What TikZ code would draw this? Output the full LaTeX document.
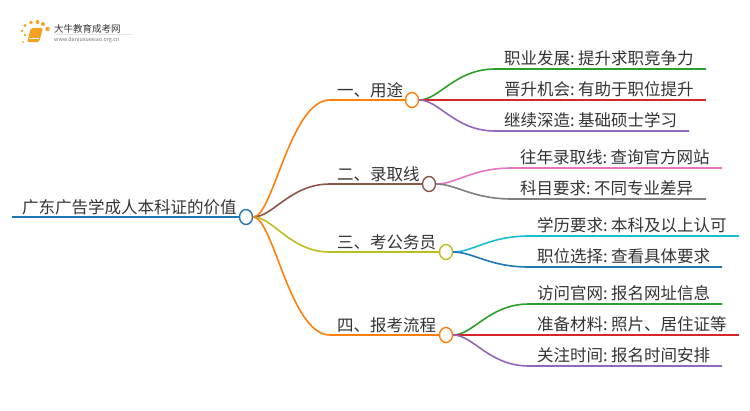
\documentclass[tikz,border=0pt]{standalone}
\usepackage{fontspec}
\usetikzlibrary{shapes.geometric}
\setmainfont[WordSpace=0.6]{Noto Sans CJK SC}
\definecolor{orangecolor}{RGB}{255,127,14}
\definecolor{browncolor}{RGB}{140,86,75}
\definecolor{olivecolor}{RGB}{188,189,34}
\definecolor{bluecolor}{RGB}{31,119,180}
\definecolor{greencolor}{RGB}{44,160,44}
\definecolor{redcolor}{RGB}{214,39,40}
\definecolor{purplecolor}{RGB}{148,103,189}
\definecolor{pinkcolor}{RGB}{227,119,194}
\definecolor{greycolor}{RGB}{127,127,127}
\definecolor{cyancolor}{RGB}{23,190,207}
\definecolor{textcolor}{RGB}{51,51,51}
\definecolor{logocolor}{RGB}{245,160,30}
\begin{document}
\begin{tikzpicture}[x=1pt,y=-1pt]
\newcommand{\outspan}{20}
\newcommand{\inspan}{40}
\tikzstyle{vertex}=[draw,line width=1.4pt,ellipse,fill=white,minimum width=13pt,minimum height=15pt,inner sep=0pt]
\tikzstyle{label}=[inner sep=0pt,text=textcolor,font=\fontsize{16.5pt}{18pt}\selectfont,anchor=base west]
\tikzstyle{link}=[line width=1.6pt]
\tikzstyle{dot}=[fill=logocolor,draw=none,circle,inner sep=0pt]
\useasboundingbox (0,0) rectangle (750,410);
% logo
\node[inner sep=0pt,text=textcolor,font=\fontsize{9.5pt}{10pt}\selectfont,anchor=base west] (logotitle) at (54,32) {大牛教育成考网};
\node[inner sep=0pt,text=black!55,font=\fontsize{5.4pt}{6pt}\selectfont,anchor=base west] (logourl) at (54,41) {www.daniuxuexiao.org.cn};
\draw[black!10,line width=0.5pt] (54,34) -- (132,34);
\foreach \i/\px/\py/\r in {1/23/42/2,2/25/35/2.6,3/22/31/2.8,4/25/25.5/3.2,5/31/22.5/3.8,6/37.5/22/4,7/43/24/4,8/47.5/29/4.4}
  \node[dot,minimum size=\r pt] (logodot\i) at (\px,\py) {};
\fill[logocolor,rounded corners=1.5pt] (31,28) -- (43,28) -- (39,42) -- (27,42) -- cycle;
\draw[white,line width=0.5pt] (29,38.5) -- (38.5,38.5);
% vertices
\node[vertex,draw=bluecolor] (root) at (246,217) {};
\node[vertex,draw=orangecolor] (b1) at (412,100) {};
\node[vertex,draw=browncolor] (b2) at (429,184) {};
\node[vertex,draw=olivecolor] (b3) at (446,252) {};
\node[vertex,draw=orangecolor] (b4) at (446,335) {};
% line ends
\coordinate (rootstart) at (12,217);
\coordinate (b1a) at (330,100);
\coordinate (b2a) at (330,184);
\coordinate (b3a) at (330,252);
\coordinate (b4a) at (330,335);
\coordinate (l1s) at (495,69);   \coordinate (l1e) at (706,69);
\coordinate (l2e) at (706,100);
\coordinate (l3s) at (495,131);  \coordinate (l3e) at (689,131);
\coordinate (l4s) at (512,168);  \coordinate (l4e) at (722,168);
\coordinate (l5s) at (512,199);  \coordinate (l5e) at (706,199);
\coordinate (l6s) at (529,236);  \coordinate (l6e) at (739,236);
\coordinate (l7s) at (529,267);  \coordinate (l7e) at (722,267);
\coordinate (l8s) at (529,304);  \coordinate (l8e) at (722,304);
\coordinate (l9e) at (739,335);
\coordinate (l10s) at (529,366); \coordinate (l10e) at (722,366);
% edges
\draw[bluecolor,line width=1.8pt] (rootstart) -- (root);
\draw[orangecolor,link] (root.east) .. controls +(\outspan,0) and +(-\inspan,0) .. (b1a) -- (b1);
\draw[browncolor,link] (root.east) .. controls +(\outspan,0) and +(-\inspan,0) .. (b2a) -- (b2);
\draw[olivecolor,link] (root.east) .. controls +(\outspan,0) and +(-\inspan,0) .. (b3a) -- (b3);
\draw[orangecolor,link] (root.east) .. controls +(\outspan,0) and +(-\inspan,0) .. (b4a) -- (b4);
\draw[greencolor,link] (b1.east) .. controls +(\outspan,0) and +(-\inspan,0) .. (l1s) -- (l1e);
\draw[redcolor,link] (b1.east) -- (l2e);
\draw[purplecolor,link] (b1.east) .. controls +(\outspan,0) and +(-\inspan,0) .. (l3s) -- (l3e);
\draw[pinkcolor,link] (b2.east) .. controls +(\outspan,0) and +(-\inspan,0) .. (l4s) -- (l4e);
\draw[greycolor,link] (b2.east) .. controls +(\outspan,0) and +(-\inspan,0) .. (l5s) -- (l5e);
\draw[cyancolor,link] (b3.east) .. controls +(\outspan,0) and +(-\inspan,0) .. (l6s) -- (l6e);
\draw[bluecolor,link] (b3.east) .. controls +(\outspan,0) and +(-\inspan,0) .. (l7s) -- (l7e);
\draw[greencolor,link] (b4.east) .. controls +(\outspan,0) and +(-\inspan,0) .. (l8s) -- (l8e);
\draw[redcolor,link] (b4.east) -- (l9e);
\draw[purplecolor,link] (b4.east) .. controls +(\outspan,0) and +(-\inspan,0) .. (l10s) -- (l10e);
% labels
\node[label] (troot) at (22,213) {广东广告学成人本科证的价值};
\node[label] (t1) at (337,96) {一、用途};
\node[label] (t2) at (337,180) {二、录取线};
\node[label] (t3) at (337,248) {三、考公务员};
\node[label] (t4) at (337,331) {四、报考流程};
\node[label] (tl1) at (504,64) {职业发展: 提升求职竞争力};
\node[label] (tl2) at (504,95) {晋升机会: 有助于职位提升};
\node[label] (tl3) at (504,126) {继续深造: 基础硕士学习};
\node[label] (tl4) at (520,163) {往年录取线: 查询官方网站};
\node[label] (tl5) at (520,194) {科目要求: 不同专业差异};
\node[label] (tl6) at (537,231) {学历要求: 本科及以上认可};
\node[label] (tl7) at (537,262) {职位选择: 查看具体要求};
\node[label] (tl8) at (537,299) {访问官网: 报名网址信息};
\node[label] (tl9) at (537,330) {准备材料: 照片、居住证等};
\node[label] (tl10) at (537,361) {关注时间: 报名时间安排};
\end{tikzpicture}
\end{document}
